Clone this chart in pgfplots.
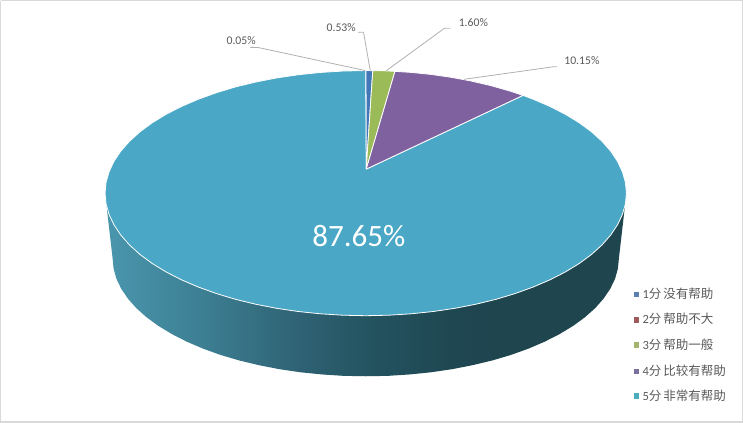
\documentclass[border=0pt]{standalone}
\usepackage{fontspec}
\setmainfont{Carlito}
\newfontfamily\cjk{Noto Sans CJK SC}
\usepackage{pgfplots}
\pgfplotsset{compat=1.18}

\definecolor{tealtop}{RGB}{74,168,198}
\definecolor{slicepurple}{RGB}{128,97,160}
\definecolor{slicegreen}{RGB}{155,187,89}
\definecolor{sliceblue}{RGB}{68,119,184}
\definecolor{leader}{RGB}{176,176,176}
\definecolor{labelgrey}{RGB}{89,89,89}
\definecolor{framegrey}{RGB}{217,217,217}
\definecolor{keyone}{RGB}{91,127,175}
\definecolor{keytwo}{RGB}{160,90,90}
\definecolor{keythree}{RGB}{163,181,108}
\definecolor{keyfour}{RGB}{123,111,156}
\definecolor{keyfive}{RGB}{75,172,190}

% rim of the disc, dark toward the right
\pgfdeclarehorizontalshading{rimshade}{100bp}{
  rgb(0bp)=(0.29,0.59,0.68);
  rgb(25bp)=(0.29,0.59,0.68);
  rgb(34bp)=(0.24,0.50,0.58);
  rgb(44bp)=(0.18,0.38,0.45);
  rgb(50bp)=(0.14,0.33,0.38);
  rgb(58bp)=(0.12,0.28,0.32);
  rgb(63bp)=(0.12,0.27,0.31);
  rgb(75bp)=(0.12,0.27,0.31);
  rgb(100bp)=(0.12,0.27,0.31)}

\pgfplotsset{
  legkey/.style={only marks, mark=square*, mark size=2.2bp, mark options={solid, draw=#1, fill=#1}},
  leaderline/.style={leader, line width=0.8bp},
  datalabel/.style={text=labelgrey, font=\fontsize{11.5bp}{13bp}\selectfont},
}
\tikzset{
  legtext/.style={text=labelgrey, anchor=west, inner sep=0pt, font=\fontsize{12.5bp}{14bp}\selectfont},
}

\begin{document}
\begin{tikzpicture}
\begin{axis}[
    scale only axis,
    width=743bp, height=423bp,
    xmin=0, xmax=743,
    ymin=0, ymax=423,
    y dir=reverse,
    hide axis,
    clip=false,
  ]
  % frame
  \addplot[framegrey, line width=1.4bp] coordinates {(0.7,0.7)(741.8,0.7)(741.8,421.8)(0.7,421.8)(0.7,0.7)};

  % rim
  \addplot[draw=none, shade, shading=rimshade] coordinates {
    (105,193)(112.5,258)(113.5,268.3)(116.3,278.5)(121.1,288.5)(127.8,298.4)(136.2,307.9)
    (146.4,317)(158.3,325.7)(171.7,333.8)(186.6,341.4)(202.9,348.4)(220.4,354.7)(239,360.2)
    (258.6,364.9)(279,368.9)(300,372)(321.6,374.2)(343.4,375.6)(365.5,376)(387.6,375.6)
    (409.4,374.2)(431,372)(452,368.9)(472.4,364.9)(492,360.2)(510.6,354.7)(528.1,348.4)
    (544.4,341.4)(559.3,333.8)(572.7,325.7)(584.6,317)(594.8,307.9)(603.2,298.4)(609.9,288.5)
    (614.7,278.5)(617.5,268.3)(618.5,258)(626,193)(105,193)};

  % 87.65% slice
  \addplot[fill=tealtop, draw=white, line width=0.8bp, line join=round] coordinates {
    (366,169)(365.5,70.5)(342.8,71)(320.3,72.4)(298.1,74.7)(276.4,77.9)(255.4,82)(235.2,86.9)
    (216.1,92.7)(198.1,99.2)(181.3,106.4)(165.9,114.3)(152.1,122.7)(139.9,131.7)(129.4,141.2)
    (120.7,151.1)(113.9,161.3)(109,171.7)(106,182.3)(105,193)(106,203.7)(109,214.3)(113.9,224.7)
    (120.7,234.9)(129.4,244.8)(139.9,254.3)(152.1,263.3)(165.9,271.7)(181.3,279.6)(198.1,286.8)
    (216.1,293.3)(235.2,299.1)(255.4,304)(276.4,308.1)(298.1,311.3)(320.3,313.6)(342.8,315)
    (365.5,315.5)(388.2,315)(410.7,313.6)(432.9,311.3)(454.6,308.1)(475.6,304)(495.8,299.1)
    (514.9,293.3)(532.9,286.8)(549.7,279.6)(565.1,271.7)(578.9,263.3)(591.1,254.3)(601.6,244.8)
    (610.3,234.9)(617.1,224.7)(622,214.3)(625,203.7)(626,193)(625,182.3)(622,171.7)(617.1,161.3)
    (610.3,151.1)(601.6,141.2)(591.1,131.7)(578.9,122.7)(565.1,114.3)(549.7,106.4)(532.9,99.2)
    (522.7,95.3)(366,169)};

  % small slices
  \addplot[fill=sliceblue, draw=white, line width=0.8bp] coordinates {(366,169)(365.8,70.5)(372.5,70.6)(366,169)};
  \addplot[fill=slicegreen, draw=white, line width=0.8bp] coordinates {(366,169)(372.5,70.6)(385,70.8)(394.7,71.3)(366,169)};
  \addplot[fill=slicepurple, draw=white, line width=0.8bp] coordinates {
    (366,169)(394.7,71.3)(410,72.3)(430,74.3)(450,77.1)(470,80.8)(490,85.4)(510,91.1)(522.7,95.3)(366,169)};

  % leader lines
  \addplot[leaderline] coordinates {(250,47.3)(258,47.5)(365,70.5)};
  \addplot[leaderline] coordinates {(358,32.3)(363.3,32.3)(370,70.5)};
  \addplot[leaderline] coordinates {(450,28.3)(444,28.3)(386,70.7)};
  \addplot[leaderline] coordinates {(556.7,66.7)(553.3,66.7)(463.3,79.3)};

  % legend keys
  \addplot[legkey=keyone] coordinates {(636,294)};
  \addplot[legkey=keytwo] coordinates {(636,319.5)};
  \addplot[legkey=keythree] coordinates {(636,344.5)};
  \addplot[legkey=keyfour] coordinates {(636,371)};
  \addplot[legkey=keyfive] coordinates {(636,395.5)};

  % labels
  \node[text=labelgrey, font=\fontsize{11.7bp}{13bp}\selectfont] at (axis cs:241,41) {0.05\%};
  \node[text=labelgrey, font=\fontsize{11.7bp}{13bp}\selectfont] at (axis cs:341,28) {0.53\%};
  \node[text=labelgrey, font=\fontsize{11.7bp}{13bp}\selectfont] at (axis cs:473,23) {1.60\%};
  \node[text=labelgrey, font=\fontsize{11.7bp}{13bp}\selectfont] at (axis cs:581.5,61) {10.15\%};
  \node[text=white, font=\fontsize{31bp}{34bp}\selectfont] at (axis cs:358.5,236) {87.65\%};

  \node[legtext] at (axis cs:642,293.5) {1{\cjk 分\kern-1bp{} 没有帮助}};
  \node[legtext] at (axis cs:642,319) {2{\cjk 分\kern-1bp{} 帮助不大}};
  \node[legtext] at (axis cs:642,344.5) {3{\cjk 分\kern-1bp{} 帮助一般}};
  \node[legtext] at (axis cs:642,370) {4{\cjk 分\kern-1bp{} 比较有帮助}};
  \node[legtext] at (axis cs:642,395) {5{\cjk 分\kern-1bp{} 非常有帮助}};
\end{axis}
\end{tikzpicture}
\end{document}
